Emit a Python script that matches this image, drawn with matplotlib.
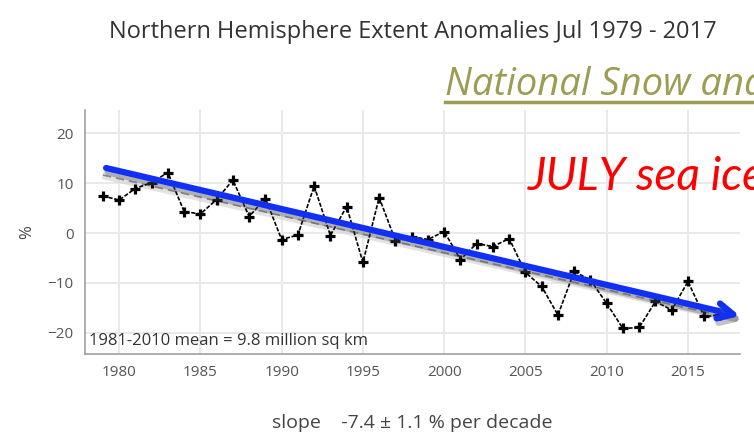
import numpy as np
import matplotlib.pyplot as plt
import matplotlib.patheffects as pe

plt.rcParams['font.family'] = ['Open Sans', 'DejaVu Sans']

# July Northern Hemisphere sea ice extent anomalies (% of 1981-2010 mean)
years = np.arange(1979, 2018)
anomaly = [7.4, 6.6, 8.9, 10.1, 12.1, 4.3, 3.8, 6.7, 10.6, 3.3,
           6.9, -1.3, -0.4, 9.4, -0.5, 5.3, -5.9, 7.1, -1.5, -0.7,
           -1.3, 0.3, -5.3, -2.1, -2.7, -1.1, -7.9, -10.7, -16.4, -7.7,
           -9.4, -14.1, -19.1, -18.9, -13.7, -15.4, -9.7, -16.7, -16.4]
slope_per_decade = -7.4
slope_err = 1.1
mean_extent = 9.8

xticks = [1980, 1985, 1990, 1995, 2000, 2005, 2010, 2015]
yticks = [-20, -10, 0, 10, 20]

# hand-drawn overlay arrow (year, %)
arrow_start = (1979.2, 13.0)
arrow_end = (2018.2, -16.6)

anom = np.array(anomaly)
trend = anom.mean() + slope_per_decade / 10 * (years - years.mean())

fig = plt.figure(figsize=(7.54, 4.45), dpi=100)
ax = fig.add_axes([0.1127, 0.2045, 0.8687, 0.5483])

ax.grid(True, color='#e9e9e9', lw=1.4)
ax.set_axisbelow(True)

ax.plot(years, trend, color='#d0d0d0', lw=6, alpha=0.6, solid_capstyle='butt')
ax.plot(years, trend, color='#888888', lw=1.2, ls=(0, (5, 3)))
ax.plot(years, anom, color='black', lw=1.2, ls=(0, (2.5, 1)),
        marker='+', ms=7, mew=2.3)

ax.annotate('', xy=arrow_end, xytext=arrow_start,
            arrowprops=dict(arrowstyle='->,head_length=1.1,head_width=0.55',
                            color='#1030f5', lw=4.5, shrinkA=0, shrinkB=0,
                            path_effects=[pe.SimpleLineShadow(offset=(1.5, -3), shadow_color='#555555',
                                                              alpha=0.35, linewidth=5),
                                          pe.Normal()]),
            annotation_clip=False)

ax.set_xlim(1977.9, 2018.2)
ax.set_ylim(-24.2, 24.6)
ax.set_xticks(xticks)
ax.set_yticks(yticks)
ax.tick_params(length=0, labelsize=11, labelcolor='#555555', pad=8)
for s in ['top', 'right']:
    ax.spines[s].set_visible(False)
for s in ['left', 'bottom']:
    ax.spines[s].set_color('#a0a0a0')
    ax.spines[s].set_linewidth(1.2)

ax.set_ylabel('%', fontsize=12, color='#444444', labelpad=9)
ax.text(0.006, 0.02, f'1981-2010 mean = {mean_extent} million sq km',
        transform=ax.transAxes, fontsize=12, color='#333333', va='bottom')

fig.text(0.548, 0.928, 'Northern Hemisphere Extent Anomalies Jul 1979 - 2017',
         ha='center', va='center', fontsize=17, color='#333333')
fig.text(0.547, 0.049, f'slope    {slope_per_decade} \u00b1 {slope_err} % per decade',
         ha='center', va='center', fontsize=14, color='#444444')

olive = '#9c9c52'
fig.text(445 / 754, 1 - 95 / 445, 'National Snow and Ice Data Center',
         fontsize=27.5, color=olive, style='italic', family=['Open Sans', 'DejaVu Sans'],
         va='baseline', ha='left')
fig.add_artist(plt.Line2D([445 / 754, 1.0], [1 - 102 / 445] * 2, color=olive, lw=2.5,
                          transform=fig.transFigure))
fig.text(528 / 754, 1 - 190 / 445, 'JULY sea ice extent',
         fontsize=33, color='#ff0000', style='italic', family=['Lato', 'DejaVu Sans'],
         va='baseline', ha='left')

fig.savefig('out.png', dpi=100)
